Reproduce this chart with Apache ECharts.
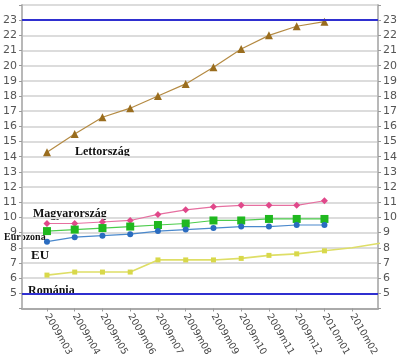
<!DOCTYPE html>
<html><head><meta charset="utf-8">
<script src="https://cdn.jsdelivr.net/npm/echarts@6/dist/echarts.min.js"></script>
<style>html,body{margin:0;padding:0;background:#fff}#c{width:400px;height:359px}</style>
</head><body><div id="c"></div>
<script>
var categories = ['2009m03','2009m04','2009m05','2009m06','2009m07','2009m08','2009m09','2009m10','2009m11','2009m12','2010m01','2010m02'];
var lettorszag = [14.3,15.5,16.6,17.2,18.0,18.8,19.9,21.1,22.0,22.6,22.9];
var magyarorszag = [9.6,9.6,9.7,9.8,10.2,10.5,10.7,10.8,10.8,10.8,11.1];
var eurozona = [9.1,9.2,9.3,9.4,9.5,9.6,9.8,9.8,9.9,9.9,9.9];
var eu = [8.4,8.7,8.8,8.9,9.1,9.2,9.3,9.4,9.4,9.5,9.5];
var romania = [6.2,6.4,6.4,6.4,7.2,7.2,7.2,7.3,7.5,7.6,7.8,8.0,8.3];
var limitLines = [23, 5];
var tickValues = categories.map(function(c,i){return i;});

function pairs(arr){return arr.map(function(v,i){return [i,v];});}
function romPairs(arr){return arr.map(function(v,i){
  return i>10 ? {value:[i,v], symbol:'none'} : [i,v];});}

var chart = echarts.init(document.getElementById('c'));
var yAxisCommon = {
  type:'value', min:4, max:24, interval:1,
  axisLine:{show:true, onZero:false, lineStyle:{color:'#b8b8b8', width:2}},
  axisTick:{show:true, length:3, lineStyle:{color:'#999'}},
  splitLine:{show:true, lineStyle:{color:'#dcdcdc', width:2}},
  axisLabel:{color:'#555', fontSize:11, fontFamily:'DejaVu Sans', margin:5,
    formatter:function(v){return (v===4||v===24)?'':String(v);}}
};
var labelFont = {fontFamily:'Liberation Serif', fontWeight:'bold', fill:'#111'};
chart.setOption({
  animation:false,
  grid:{left:20, right:18, top:5, bottom:44, show:true, borderColor:'#cfcfcf', borderWidth:1},
  xAxis:{
    type:'value', min:-0.9, max:11.93,
    axisLine:{show:true, onZero:false, lineStyle:{color:'#aaa', width:2}},
    splitLine:{show:false},
    axisTick:{show:true, customValues:tickValues, length:3, lineStyle:{color:'#999'}},
    axisLabel:{customValues:tickValues, rotate:-60, color:'#444', fontSize:9.5,
      fontFamily:'DejaVu Sans', margin:6,
      formatter:function(v){return categories[Math.round(v)];}}
  },
  yAxis:[
    Object.assign({position:'left'}, yAxisCommon),
    Object.assign({position:'right'}, yAxisCommon, {splitLine:{show:false}})
  ],
  series:[
    {type:'line', data:pairs(lettorszag), symbol:'triangle', symbolSize:8,
     itemStyle:{color:'#9a6d1e'}, lineStyle:{color:'#b48a42', width:1.2},
     markLine:{silent:true, symbol:'none', label:{show:false},
       lineStyle:{color:'#2f2fd0', width:2, type:'solid'},
       data:limitLines.map(function(v){return {yAxis:v};})}},
    {type:'line', data:pairs(magyarorszag), symbol:'diamond', symbolSize:7,
     itemStyle:{color:'#e0488a'}, lineStyle:{color:'#e66fa0', width:1.2}},
    {type:'line', data:pairs(eurozona), symbol:'rect', symbolSize:8,
     itemStyle:{color:'#1fb81f'}, lineStyle:{color:'#4ccc4c', width:1.2}},
    {type:'line', data:pairs(eu), symbol:'circle', symbolSize:6,
     itemStyle:{color:'#2a6cc0'}, lineStyle:{color:'#4a88cc', width:1.2}},
    {type:'line', data:romPairs(romania), symbol:'rect', symbolSize:5,
     itemStyle:{color:'#d8d84a'}, lineStyle:{color:'#dede66', width:1.6}, clip:true}
  ],
  graphic:[
    {type:'text', left:75, top:146, style:Object.assign({text:'Lettország', fontSize:12}, labelFont)},
    {type:'text', left:33, top:208, style:Object.assign({text:'Magyarország', fontSize:12, backgroundColor:'rgba(255,255,255,0.9)'}, labelFont)},
    {type:'text', left:4, top:232, style:Object.assign({text:'Eurózóna', fontSize:10}, labelFont)},
    {type:'text', left:31, top:249, style:Object.assign({text:'EU', fontSize:13}, labelFont)},
    {type:'text', left:28, top:285, style:Object.assign({text:'Románia', fontSize:12}, labelFont)}
  ]
});
</script></body></html>
